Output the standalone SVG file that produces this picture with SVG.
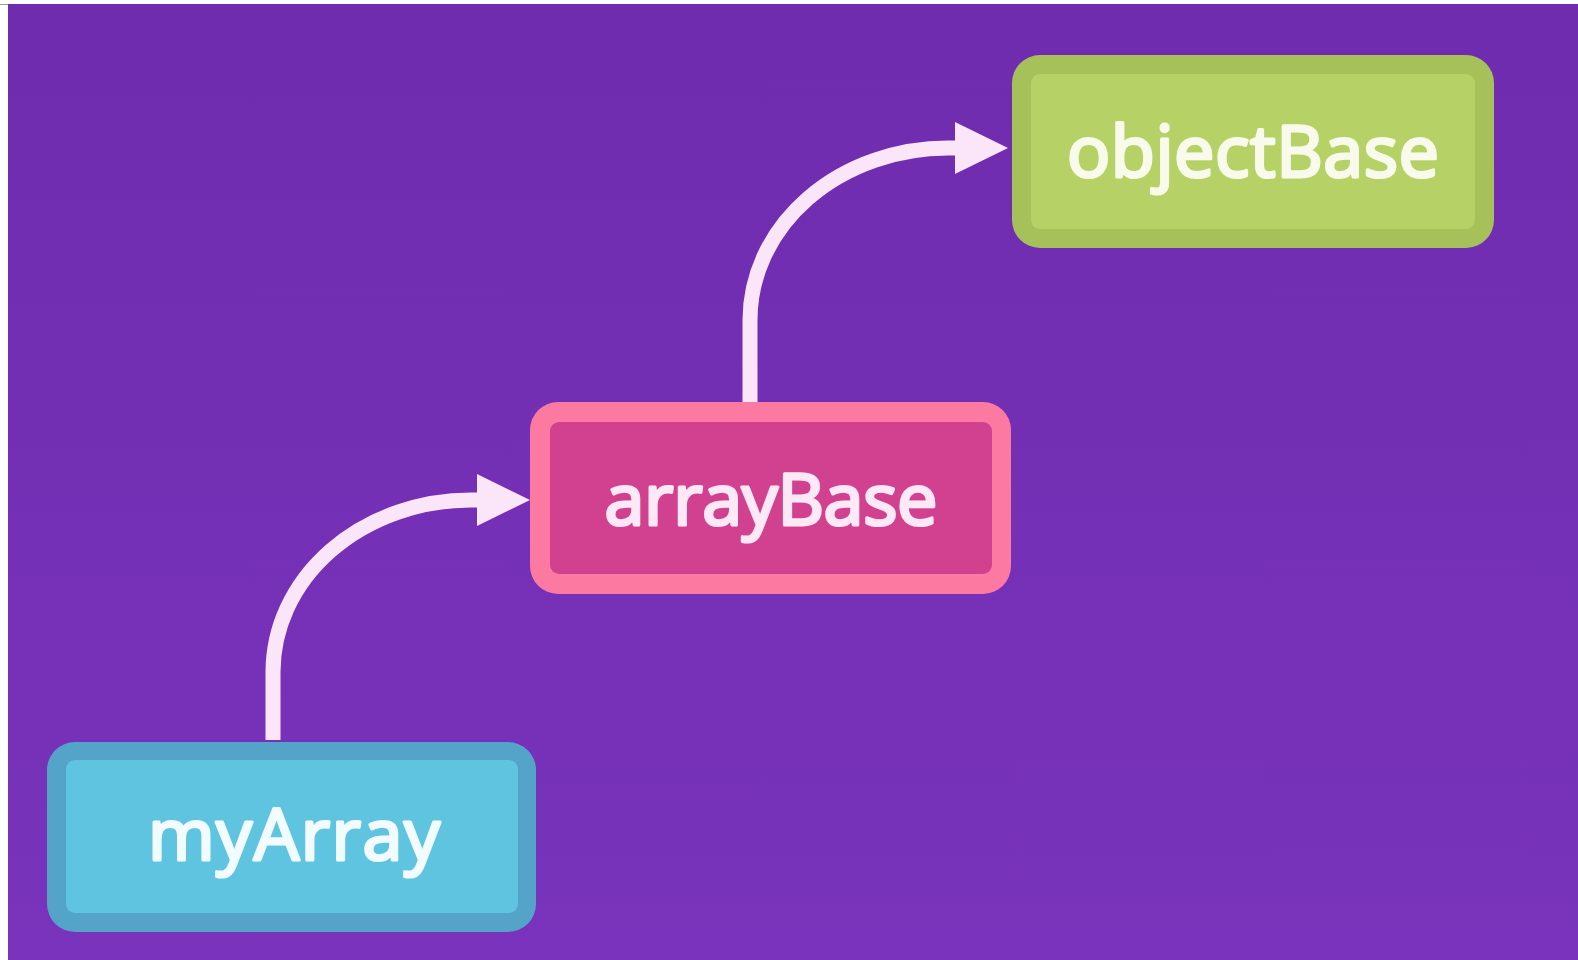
<svg xmlns="http://www.w3.org/2000/svg" width="1578" height="960" viewBox="0 0 1578 960">
  <defs>
    <linearGradient id="bg" x1="0" y1="0" x2="0" y2="1">
      <stop offset="0" stop-color="#6f2cae"/>
      <stop offset="1" stop-color="#7933bc"/>
    </linearGradient>
    <marker id="head" markerUnits="userSpaceOnUse" markerWidth="56" markerHeight="54" refX="0" refY="27" orient="auto" overflow="visible">
      <path d="M0,1 L53,27 L0,53 Z" fill="#fbe5f8"/>
    </marker>
    <style>
      .label { font-family: "Open Sans", "Liberation Sans", sans-serif; font-weight: 400; font-size: 72px; text-anchor: middle; stroke-width: 3.2; stroke-linejoin: round; }
      .link { fill: none; stroke: #fbe5f8; stroke-width: 15; marker-end: url(#head); }
    </style>
  </defs>

  <!-- page -->
  <rect x="0" y="0" width="1578" height="960" fill="#ffffff"/>
  <rect x="8" y="4" width="1570" height="956" fill="url(#bg)"/>
  <line x1="0" y1="4.5" x2="8" y2="4.5" stroke="#9a9a9a" stroke-width="1"/>

  <!-- connectors -->
  <g id="connectors">
    <path class="link" d="M273,740 L273,672 A198,172 0 0 1 471,500 L477,500"/>
    <path class="link" d="M750,402 L750,320 A198,172 0 0 1 948,148 L955,148"/>
  </g>

  <!-- nodes -->
  <g id="objectBase">
    <rect x="1012" y="55" width="482" height="193" rx="28" fill="#a7c15a"/>
    <rect x="1031" y="74" width="444" height="155" rx="9" fill="#b6d166"/>
    <text class="label" x="1253" y="177" fill="#f8fbeb" stroke="#f8fbeb" textLength="372" lengthAdjust="spacing">objectBase</text>
  </g>

  <g id="arrayBase">
    <rect x="530" y="402" width="481" height="192" rx="28" fill="#fc7aa1"/>
    <rect x="550" y="422" width="442" height="152" rx="9" fill="#d2418f"/>
    <text class="label" x="771" y="525" fill="#fde8f5" stroke="#fde8f5" textLength="333" lengthAdjust="spacing">arrayBase</text>
  </g>

  <g id="myArray">
    <rect x="47" y="742" width="489" height="190" rx="28" fill="#54a4c9"/>
    <rect x="66" y="760" width="452" height="153" rx="9" fill="#5fc4e0"/>
    <text class="label" x="294" y="860" fill="#f2fbff" stroke="#f2fbff" textLength="292" lengthAdjust="spacing">myArray</text>
  </g>
</svg>
